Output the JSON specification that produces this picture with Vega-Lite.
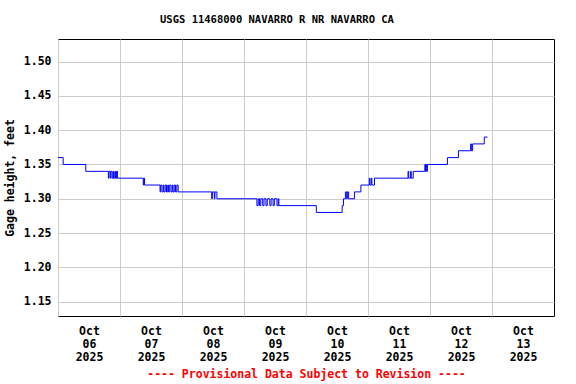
{
  "$schema": "https://vega.github.io/schema/vega-lite/v6.json",
  "width": 496,
  "height": 277,
  "autosize": "none",
  "padding": {"left": 58, "top": 39, "right": 22, "bottom": 68},
  "background": "white",
  "title": {
    "text": "USGS 11468000 NAVARRO R NR NAVARRO CA",
    "font": "DejaVu Sans Mono",
    "fontSize": 10.5,
    "fontWeight": "bold",
    "color": "black",
    "anchor": "middle",
    "dx": -29,
    "offset": 14
  },
  "data": {
    "values": [
      {"t": "2025-10-06T00:00", "v": 1.36},
      {"t": "2025-10-06T02:00", "v": 1.35},
      {"t": "2025-10-06T10:45", "v": 1.34},
      {"t": "2025-10-06T19:30", "v": 1.33},
      {"t": "2025-10-06T19:45", "v": 1.34},
      {"t": "2025-10-06T20:15", "v": 1.33},
      {"t": "2025-10-06T20:30", "v": 1.34},
      {"t": "2025-10-06T21:00", "v": 1.33},
      {"t": "2025-10-06T21:30", "v": 1.34},
      {"t": "2025-10-06T21:45", "v": 1.33},
      {"t": "2025-10-06T22:15", "v": 1.34},
      {"t": "2025-10-06T22:30", "v": 1.33},
      {"t": "2025-10-06T22:45", "v": 1.34},
      {"t": "2025-10-06T23:00", "v": 1.33},
      {"t": "2025-10-07T09:00", "v": 1.32},
      {"t": "2025-10-07T09:15", "v": 1.33},
      {"t": "2025-10-07T09:30", "v": 1.32},
      {"t": "2025-10-07T15:30", "v": 1.31},
      {"t": "2025-10-07T15:45", "v": 1.32},
      {"t": "2025-10-07T16:15", "v": 1.31},
      {"t": "2025-10-07T16:45", "v": 1.32},
      {"t": "2025-10-07T17:00", "v": 1.31},
      {"t": "2025-10-07T17:30", "v": 1.32},
      {"t": "2025-10-07T18:00", "v": 1.31},
      {"t": "2025-10-07T18:30", "v": 1.32},
      {"t": "2025-10-07T18:45", "v": 1.31},
      {"t": "2025-10-07T19:15", "v": 1.32},
      {"t": "2025-10-07T19:45", "v": 1.31},
      {"t": "2025-10-07T20:15", "v": 1.32},
      {"t": "2025-10-07T20:30", "v": 1.31},
      {"t": "2025-10-07T21:00", "v": 1.32},
      {"t": "2025-10-07T21:30", "v": 1.31},
      {"t": "2025-10-07T22:00", "v": 1.32},
      {"t": "2025-10-07T22:30", "v": 1.31},
      {"t": "2025-10-08T11:30", "v": 1.30},
      {"t": "2025-10-08T11:45", "v": 1.31},
      {"t": "2025-10-08T12:30", "v": 1.30},
      {"t": "2025-10-08T12:45", "v": 1.31},
      {"t": "2025-10-08T13:30", "v": 1.30},
      {"t": "2025-10-09T05:00", "v": 1.29},
      {"t": "2025-10-09T05:30", "v": 1.30},
      {"t": "2025-10-09T06:00", "v": 1.29},
      {"t": "2025-10-09T06:30", "v": 1.30},
      {"t": "2025-10-09T07:15", "v": 1.29},
      {"t": "2025-10-09T07:45", "v": 1.30},
      {"t": "2025-10-09T08:30", "v": 1.29},
      {"t": "2025-10-09T09:00", "v": 1.30},
      {"t": "2025-10-09T10:00", "v": 1.29},
      {"t": "2025-10-09T10:30", "v": 1.30},
      {"t": "2025-10-09T11:15", "v": 1.29},
      {"t": "2025-10-09T11:45", "v": 1.30},
      {"t": "2025-10-09T12:45", "v": 1.29},
      {"t": "2025-10-09T13:15", "v": 1.30},
      {"t": "2025-10-09T13:30", "v": 1.29},
      {"t": "2025-10-10T04:00", "v": 1.28},
      {"t": "2025-10-10T14:00", "v": 1.29},
      {"t": "2025-10-10T14:30", "v": 1.30},
      {"t": "2025-10-10T15:15", "v": 1.31},
      {"t": "2025-10-10T15:45", "v": 1.30},
      {"t": "2025-10-10T16:00", "v": 1.31},
      {"t": "2025-10-10T16:30", "v": 1.30},
      {"t": "2025-10-10T18:45", "v": 1.31},
      {"t": "2025-10-10T21:15", "v": 1.32},
      {"t": "2025-10-11T00:30", "v": 1.33},
      {"t": "2025-10-11T00:45", "v": 1.32},
      {"t": "2025-10-11T01:15", "v": 1.33},
      {"t": "2025-10-11T01:30", "v": 1.32},
      {"t": "2025-10-11T02:30", "v": 1.33},
      {"t": "2025-10-11T15:30", "v": 1.34},
      {"t": "2025-10-11T15:45", "v": 1.33},
      {"t": "2025-10-11T16:30", "v": 1.34},
      {"t": "2025-10-11T16:45", "v": 1.33},
      {"t": "2025-10-11T17:30", "v": 1.34},
      {"t": "2025-10-11T22:00", "v": 1.35},
      {"t": "2025-10-11T22:15", "v": 1.34},
      {"t": "2025-10-11T22:30", "v": 1.35},
      {"t": "2025-10-11T22:45", "v": 1.34},
      {"t": "2025-10-11T23:00", "v": 1.35},
      {"t": "2025-10-12T06:45", "v": 1.36},
      {"t": "2025-10-12T11:00", "v": 1.37},
      {"t": "2025-10-12T15:45", "v": 1.38},
      {"t": "2025-10-12T16:00", "v": 1.37},
      {"t": "2025-10-12T16:30", "v": 1.38},
      {"t": "2025-10-12T21:00", "v": 1.39},
      {"t": "2025-10-12T22:15", "v": 1.39}
    ]
  },
  "mark": {"type": "line", "interpolate": "step-after", "color": "#0000ff", "strokeWidth": 1, "clip": true},
  "encoding": {
    "x": {
      "field": "t",
      "type": "temporal",
      "scale": {"domain": [{"year": 2025, "month": 10, "date": 6}, {"year": 2025, "month": 10, "date": 14}]},
      "axis": {
        "values": [
          {"year": 2025, "month": 10, "date": 6},
          {"year": 2025, "month": 10, "date": 7},
          {"year": 2025, "month": 10, "date": 8},
          {"year": 2025, "month": 10, "date": 9},
          {"year": 2025, "month": 10, "date": 10},
          {"year": 2025, "month": 10, "date": 11},
          {"year": 2025, "month": 10, "date": 12},
          {"year": 2025, "month": 10, "date": 13}
        ],
        "labelExpr": "[timeFormat(datum.value, '%b'), timeFormat(datum.value, '%d'), timeFormat(datum.value, '%Y')]",
        "labelOffset": 31,
        "labelLineHeight": 13,
        "labelPadding": 9,
        "labelBaseline": "top",
        "labelFlush": false,
        "labelOverlap": false,
        "ticks": false,
        "domain": false,
        "title": "---- Provisional Data Subject to Revision ----",
        "titleColor": "#ff0000",
        "titlePadding": 6
      }
    },
    "y": {
      "field": "v",
      "type": "quantitative",
      "scale": {"domain": [1.129, 1.533], "nice": false, "zero": false},
      "axis": {
        "values": [1.15, 1.2, 1.25, 1.3, 1.35, 1.4, 1.45, 1.5],
        "format": ".2f",
        "ticks": false,
        "domain": false,
        "labelPadding": 7,
        "title": "Gage height, feet",
        "titlePadding": 8
      }
    }
  },
  "config": {
    "view": {"stroke": "black", "strokeWidth": 1},
    "axis": {
      "labelFont": "DejaVu Sans Mono",
      "labelFontSize": 11.5,
      "labelFontWeight": "bold",
      "labelColor": "black",
      "titleFont": "DejaVu Sans Mono",
      "titleFontSize": 11.5,
      "titleFontWeight": "bold",
      "titleColor": "black",
      "gridColor": "#cccccc",
      "gridWidth": 1,
      "gridOpacity": 1
    }
  }
}
